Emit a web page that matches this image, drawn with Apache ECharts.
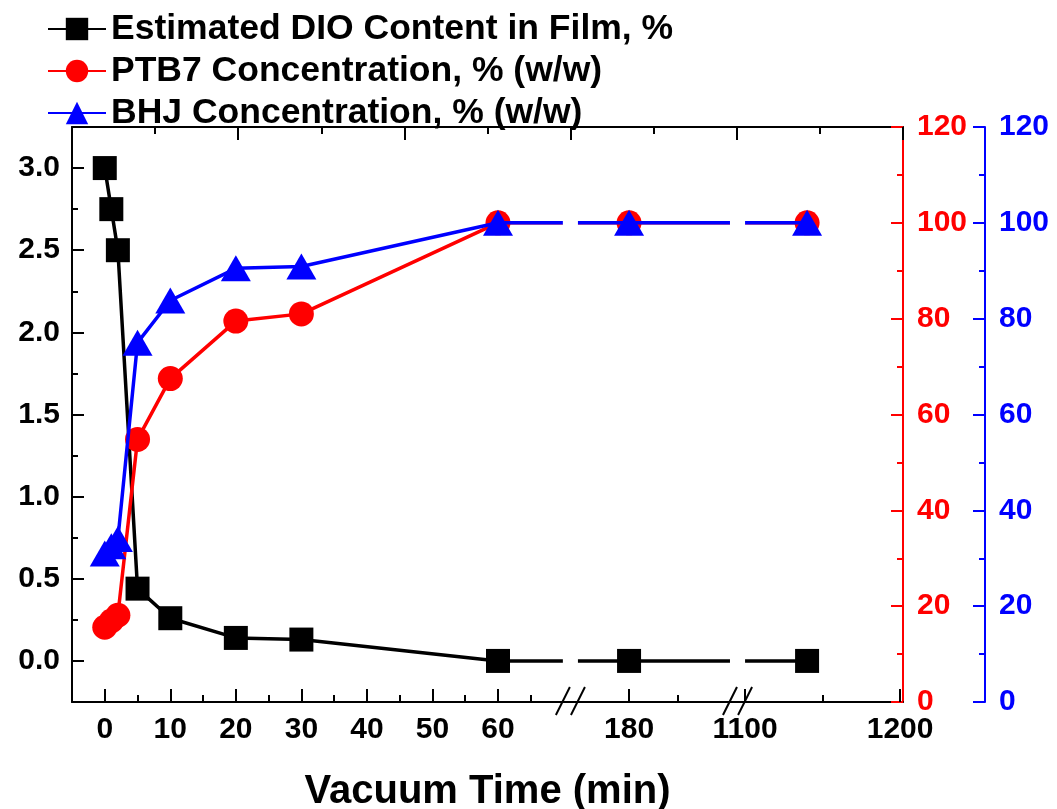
<!DOCTYPE html>
<html><head><meta charset="utf-8">
<script src="https://cdn.jsdelivr.net/npm/echarts@6/dist/echarts.min.js"></script>
<style>html,body{margin:0;padding:0;background:#fff}#c{width:1057px;height:809px}</style>
</head><body><div id="c"></div>
<script>
// ---- data ----
const times = [0, 1, 2, 5, 10, 20, 30, 60, 180, 1140];
const dio   = [3.0, 2.75, 2.5, 0.44, 0.26, 0.14, 0.13, 0.0, 0.0, 0.0];
const ptb7  = [15.6, 16.9, 18.1, 54.8, 67.5, 79.5, 81.0, 100, 100, 100];
const bhj   = [31, 32.5, 34, 75, 83.8, 90.5, 90.9, 100, 100, 100];
const seriesNames = ['Estimated DIO Content in Film, %', 'PTB7 Concentration, % (w/w)', 'BHJ Concentration, % (w/w)'];
const xTickTimes  = [0, 10, 20, 30, 40, 50, 60, 180, 1100, 1200];
const xTickLabels = ['0', '10', '20', '30', '40', '50', '60', '180', '1100', '1200'];
const xMinorTimes = [5, 15, 25, 35, 45, 55, 65, 210, 1150];
const leftTicks   = [0, 0.5, 1.0, 1.5, 2.0, 2.5, 3.0];
const xAxisTitle  = 'Vacuum Time (min)';

// ---- broken-axis mapping (time -> axis position) ----
function brk(t) {
  if (t <= 100) return t;
  if (t <= 600) return 80 + (t - 180) * 0.25;
  return 97.7 + (t - 1100) * 0.2366;
}
const gaps = [[69.9, 72.2], [95.4, 97.7]];

const FONT = 'Liberation Sans, Arial, sans-serif';
const chart = echarts.init(document.getElementById('c'));
const xMin = -5, xMax = 121.8;
const tickPos = xTickTimes.map(brk);

function mk(vals) { return times.map((t, i) => [brk(t), vals[i]]); }
const noZeroLine = (color, show) => ({ show: show, onZero: false, lineStyle: { color: color, width: 2 } });

chart.setOption({
  animation: false,
  backgroundColor: '#fff',
  grid: { left: 72, right: 154, top: 127, bottom: 107, containLabel: false, outerBoundsMode: 'none' },
  legend: {
    orient: 'vertical', left: 47, top: 11, padding: 0, itemWidth: 58, itemHeight: 28, itemGap: 6,
    textStyle: { fontSize: 35.5, fontWeight: 'bold', fontFamily: FONT, color: '#000' },
    data: seriesNames
  },
  xAxis: [
    { type: 'value', position: 'bottom', min: xMin, max: xMax,
      axisLine: noZeroLine('#000', true),
      axisTick: { show: true, inside: true, length: 13, customValues: tickPos, lineStyle: { color: '#000', width: 2 } },
      axisLabel: { customValues: tickPos, margin: 13, fontSize: 30, fontWeight: 'bold', fontFamily: FONT, color: '#000',
        formatter: v => { const i = tickPos.findIndex(p => Math.abs(p - v) < 1e-6); return i >= 0 ? xTickLabels[i] : ''; } },
      splitLine: { show: false },
      name: xAxisTitle, nameLocation: 'middle', nameGap: 70,
      nameTextStyle: { fontSize: 40, fontWeight: 'bold', fontFamily: FONT, color: '#000' } },
    { type: 'value', position: 'bottom', min: xMin, max: xMax,
      axisLine: noZeroLine('#000', false),
      axisTick: { show: true, inside: true, length: 7, customValues: xMinorTimes.map(brk), lineStyle: { color: '#000', width: 2 } },
      axisLabel: { show: false }, splitLine: { show: false } },
    { type: 'value', position: 'top', min: 0, max: 5, interval: 1,
      axisLine: noZeroLine('#000', true),
      axisTick: { show: true, inside: true, length: 13, lineStyle: { color: '#000', width: 2 } },
      minorTick: { show: true, splitNumber: 2, length: 7, lineStyle: { color: '#000', width: 2 } },
      axisLabel: { show: false }, splitLine: { show: false } }
  ],
  yAxis: [
    { type: 'value', position: 'left', min: -0.25, max: 3.25,
      axisLine: noZeroLine('#000', true),
      axisTick: { show: true, inside: true, length: 12, customValues: leftTicks, lineStyle: { color: '#000', width: 2 } },
      axisLabel: { customValues: leftTicks, margin: 12, fontSize: 30, fontWeight: 'bold', fontFamily: FONT, color: '#000',
        formatter: v => v.toFixed(1) },
      splitLine: { show: false } },
    { type: 'value', position: 'left', min: -0.25, max: 3.25, interval: 0.25,
      axisLine: noZeroLine('#000', false),
      axisTick: { show: true, inside: true, length: 6, lineStyle: { color: '#000', width: 2 } },
      axisLabel: { show: false }, splitLine: { show: false } },
    { type: 'value', position: 'right', offset: 0, min: 0, max: 120, interval: 20,
      axisLine: noZeroLine('#ff0000', true),
      axisTick: { show: true, inside: true, length: 12, lineStyle: { color: '#ff0000', width: 2 } },
      minorTick: { show: true, splitNumber: 2, length: 6, lineStyle: { color: '#ff0000', width: 2 } },
      axisLabel: { margin: 14, fontSize: 30, fontWeight: 'bold', fontFamily: FONT, color: '#ff0000' },
      splitLine: { show: false } },
    { type: 'value', position: 'right', offset: 82, min: 0, max: 120, interval: 20,
      axisLine: noZeroLine('#0000ff', true),
      axisTick: { show: true, inside: true, length: 12, lineStyle: { color: '#0000ff', width: 2 } },
      minorTick: { show: true, splitNumber: 2, length: 6, lineStyle: { color: '#0000ff', width: 2 } },
      axisLabel: { margin: 14, fontSize: 30, fontWeight: 'bold', fontFamily: FONT, color: '#0000ff' },
      splitLine: { show: false } }
  ],
  series: [
    { name: seriesNames[0], type: 'line', xAxisIndex: 0, yAxisIndex: 0, data: mk(dio),
      symbol: 'rect', symbolSize: 24, color: '#000',
      lineStyle: { color: '#000', width: 3.5 }, itemStyle: { color: '#000' }, z: 3 },
    { name: seriesNames[1], type: 'line', xAxisIndex: 0, yAxisIndex: 2, data: mk(ptb7),
      symbol: 'circle', symbolSize: 25, color: '#ff0000',
      lineStyle: { color: '#ff0000', width: 3.5 }, itemStyle: { color: '#ff0000' }, z: 4 },
    { name: seriesNames[2], type: 'line', xAxisIndex: 0, yAxisIndex: 3, data: mk(bhj),
      symbol: 'triangle', symbolSize: [30, 26], color: '#0000ff',
      lineStyle: { color: '#0000ff', width: 3.5 }, itemStyle: { color: '#0000ff' }, z: 5 }
  ]
});

// break gaps and slash marks on the x axis
const gfx = [];
const yTop = chart.convertToPixel({ yAxisIndex: 2 }, 112);
const yBot = chart.convertToPixel({ yAxisIndex: 2 }, 3);
const yAxisPx = chart.convertToPixel({ yAxisIndex: 2 }, 0);
gaps.forEach(g => {
  const x1 = chart.convertToPixel({ xAxisIndex: 0 }, g[0]);
  const x2 = chart.convertToPixel({ xAxisIndex: 0 }, g[1]);
  gfx.push({ type: 'rect', z: 100, shape: { x: x1, y: yTop, width: x2 - x1, height: yBot - yTop }, style: { fill: '#fff' } });
  [x1, x2].forEach(x => {
    gfx.push({ type: 'line', z: 101, shape: { x1: x - 7, y1: yAxisPx + 13, x2: x + 7, y2: yAxisPx - 15 },
      style: { stroke: '#000', lineWidth: 2 } });
  });
});
chart.setOption({ graphic: gfx });
</script>
</body></html>
